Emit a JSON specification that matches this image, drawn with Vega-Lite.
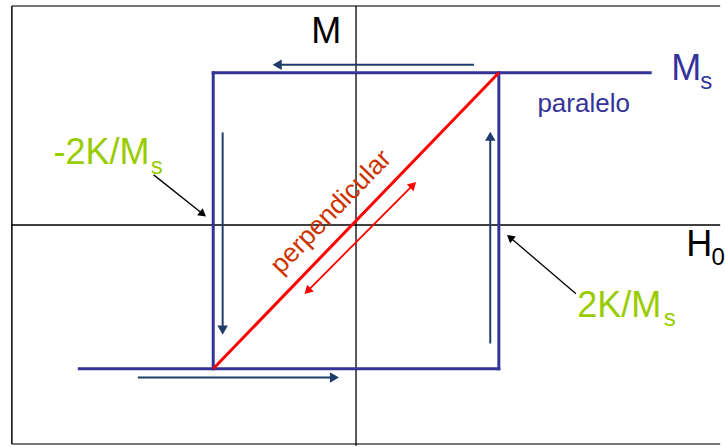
{
  "$schema": "https://vega.github.io/schema/vega-lite/v6.json",
  "width": 725,
  "height": 447,
  "autosize": {"type": "fit", "contains": "padding"},
  "padding": 0,
  "background": "white",
  "config": {"view": {"stroke": null}, "font": "Liberation Sans"},
  "encoding": {
    "x": {"field": "H", "type": "quantitative", "axis": null,
          "scale": {"domain": [-2.4931, 2.5417], "nice": false, "zero": false}},
    "y": {"field": "M", "type": "quantitative", "axis": null,
          "scale": {"domain": [-1.4444, 1.4771], "nice": false, "zero": false}}
  },
  "layer": [
    {
      "data": {"values": [
        {"part": "top", "H": -2.41, "M": 1.438, "H2": 2.55, "M2": 1.438},
        {"part": "bottom", "H": -2.41, "M": -1.438, "H2": 2.55, "M2": -1.438}
      ]},
      "mark": {"type": "rule", "color": "#777777", "strokeWidth": 2},
      "encoding": {"x2": {"field": "H2"}, "y2": {"field": "M2"}}
    },
    {
      "data": {"values": [
        {"part": "left", "H": -2.41, "M": 1.438, "H2": -2.41, "M2": -1.438}
      ]},
      "mark": {"type": "rule", "color": "#000000", "strokeWidth": 1.5},
      "encoding": {"x2": {"field": "H2"}, "y2": {"field": "M2"}}
    },
    {
      "data": {"values": [
        {"axis": "H0", "H": -2.41, "M": 0, "H2": 2.55, "M2": 0},
        {"axis": "M", "H": 0, "M": 1.438, "H2": 0, "M2": -1.45}
      ]},
      "mark": {"type": "rule", "color": "#000000", "strokeWidth": 1.3},
      "encoding": {"x2": {"field": "H2"}, "y2": {"field": "M2"}}
    },
    {
      "data": {"values": [
        {"branch": "bottom", "H": -1.9375, "M": -0.944, "H2": 1.0, "M2": -0.944},
        {"branch": "right", "H": 1.0, "M": -0.944, "H2": 1.0, "M2": 1.0},
        {"branch": "top", "H": -1.0, "M": 1.0, "H2": 2.06, "M2": 1.0},
        {"branch": "left", "H": -1.0, "M": -0.944, "H2": -1.0, "M2": 1.0}
      ]},
      "mark": {"type": "rule", "color": "#333399", "strokeWidth": 3, "strokeCap": "square"},
      "encoding": {"x2": {"field": "H2"}, "y2": {"field": "M2"}}
    },
    {
      "data": {"values": [
        {"branch": "perpendicular", "H": -1.0, "M": -0.944, "H2": 1.0, "M2": 1.0}
      ]},
      "mark": {"type": "rule", "color": "#ff0000", "strokeWidth": 3},
      "encoding": {"x2": {"field": "H2"}, "y2": {"field": "M2"}}
    },
    {
      "data": {"values": [
        {"dir": "left", "H": 0.826, "M": 1.052, "H2": -0.552, "M2": 1.052},
        {"dir": "down", "H": -0.934, "M": 0.608, "H2": -0.934, "M2": -0.69},
        {"dir": "up", "H": 0.94, "M": -0.778, "H2": 0.94, "M2": 0.583},
        {"dir": "right", "H": -1.528, "M": -1.002, "H2": -0.151, "M2": -1.002}
      ]},
      "layer": [
        {
          "mark": {"type": "rule", "color": "#1f3d6b", "strokeWidth": 2},
          "encoding": {"x2": {"field": "H2"}, "y2": {"field": "M2"}}
        },
        {
          "mark": {"type": "point", "filled": true, "color": "#1f3d6b", "opacity": 1, "size": 110},
          "encoding": {
            "x": {"field": "H2", "type": "quantitative"},
            "y": {"field": "M2", "type": "quantitative"},
            "shape": {"field": "dir", "type": "nominal", "legend": null,
                      "scale": {"domain": ["left", "down", "up", "right"],
                                "range": ["triangle-left", "triangle-down", "triangle-up", "triangle-right"]}}
          }
        }
      ]
    },
    {
      "data": {"values": [
        {"H": -0.333, "M": -0.427, "H2": 0.393, "M2": 0.257}
      ]},
      "mark": {"type": "rule", "color": "#ff0000", "strokeWidth": 1.8},
      "encoding": {"x2": {"field": "H2"}, "y2": {"field": "M2"}}
    },
    {
      "data": {"values": [{"H": 0.393, "M": 0.257}]},
      "mark": {"type": "point", "shape": "triangle", "angle": 45, "filled": true, "color": "#ff0000", "opacity": 1, "size": 90}
    },
    {
      "data": {"values": [{"H": -0.333, "M": -0.427}]},
      "mark": {"type": "point", "shape": "triangle", "angle": 225, "filled": true, "color": "#ff0000", "opacity": 1, "size": 90}
    },
    {
      "data": {"values": [
        {"H": -1.417, "M": 0.329, "H2": -1.079, "M2": 0.077},
        {"H": 1.54, "M": -0.451, "H2": 1.085, "M2": -0.087}
      ]},
      "mark": {"type": "rule", "color": "#000000", "strokeWidth": 1.3},
      "encoding": {"x2": {"field": "H2"}, "y2": {"field": "M2"}}
    },
    {
      "data": {"values": [{"H": -1.079, "M": 0.077}]},
      "mark": {"type": "point", "shape": "triangle", "angle": 128, "filled": true, "color": "#000000", "opacity": 1, "size": 80}
    },
    {
      "data": {"values": [{"H": 1.085, "M": -0.087}]},
      "mark": {"type": "point", "shape": "triangle", "angle": 310, "filled": true, "color": "#000000", "opacity": 1, "size": 80}
    },
    {
      "data": {"values": [{"label": "M", "H": -0.208, "M": 1.196}]},
      "mark": {"type": "text", "align": "center", "baseline": "alphabetic", "fontSize": 36, "color": "#000000"},
      "encoding": {"text": {"field": "label"}}
    },
    {
      "data": {"values": [{"label": "H", "H": 2.3125, "M": -0.203}]},
      "mark": {"type": "text", "align": "left", "baseline": "alphabetic", "fontSize": 36, "color": "#000000"},
      "encoding": {"text": {"field": "label"}}
    },
    {
      "data": {"values": [{"label": "0", "H": 2.49, "M": -0.261}]},
      "mark": {"type": "text", "align": "left", "baseline": "alphabetic", "fontSize": 24, "color": "#000000"},
      "encoding": {"text": {"field": "label"}}
    },
    {
      "data": {"values": [{"label": "M", "H": 2.208, "M": 0.954}]},
      "mark": {"type": "text", "align": "left", "baseline": "alphabetic", "fontSize": 36, "color": "#333399"},
      "encoding": {"text": {"field": "label"}}
    },
    {
      "data": {"values": [{"label": "s", "H": 2.41, "M": 0.895}]},
      "mark": {"type": "text", "align": "left", "baseline": "alphabetic", "fontSize": 24, "color": "#333399"},
      "encoding": {"text": {"field": "label"}}
    },
    {
      "data": {"values": [{"label": "paralelo", "H": 1.27, "M": 0.739}]},
      "mark": {"type": "text", "align": "left", "baseline": "alphabetic", "fontSize": 26, "color": "#333399"},
      "encoding": {"text": {"field": "label"}}
    },
    {
      "data": {"values": [
        {"label": "-2K/M", "H": -2.118, "M": 0.399},
        {"label": "2K/M", "H": 1.549, "M": -0.601}
      ]},
      "mark": {"type": "text", "align": "left", "baseline": "alphabetic", "fontSize": 36, "color": "#99cc00"},
      "encoding": {"text": {"field": "label"}}
    },
    {
      "data": {"values": [
        {"label": "s", "H": -1.437, "M": 0.333},
        {"label": "s", "H": 2.155, "M": -0.66}
      ]},
      "mark": {"type": "text", "align": "left", "baseline": "alphabetic", "fontSize": 24, "color": "#99cc00"},
      "encoding": {"text": {"field": "label"}}
    },
    {
      "data": {"values": [{"label": "perpendicular", "H": -0.175, "M": 0.085}]},
      "mark": {"type": "text", "align": "center", "baseline": "middle", "fontSize": 26.5, "angle": 314, "color": "#cc3300"},
      "encoding": {"text": {"field": "label"}}
    }
  ]
}
